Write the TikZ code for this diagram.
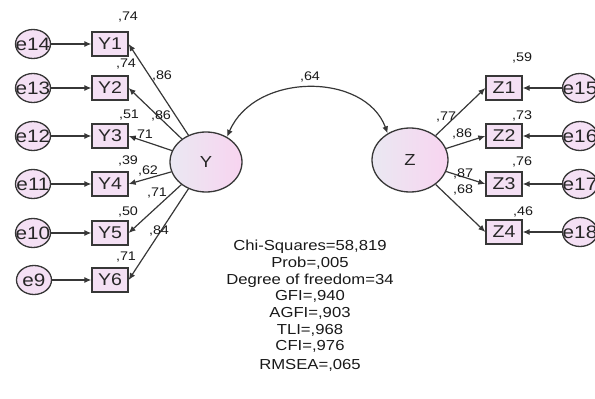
\documentclass[tikz,border=0pt]{standalone}
\usepackage{fontspec}
\setmainfont{Liberation Sans}
\newfontfamily\amosfont[FakeStretch=1.15]{Liberation Sans}
\usepackage{tikz}
\usetikzlibrary{shapes.geometric,arrows.meta}
\definecolor{edgegray}{RGB}{55,55,55}
\definecolor{lavgray}{RGB}{234,232,242}
\definecolor{softpink}{RGB}{248,212,240}
\definecolor{boxpink}{RGB}{244,224,244}
\newcommand{\elab}[1]{\makebox[0pt]{#1}}
\tikzset{
  obsbox/.style ={rectangle, draw=edgegray, line width=1.3pt, fill=boxpink, minimum width=36pt, minimum height=24pt, inner sep=0pt, text=black!85, font=\amosfont\fontsize{17}{17}\selectfont},
  errnode/.style={ellipse, draw=edgegray, line width=1.3pt, fill=boxpink, minimum width=35pt, minimum height=29pt, inner sep=0pt, text height=12.5pt, text depth=0pt, text=black!85, font=\amosfont\fontsize{18}{18}\selectfont},
  latent/.style ={ellipse, draw=edgegray, line width=1.3pt, left color=lavgray, right color=softpink, inner sep=0pt, text=black!85, font=\amosfont\fontsize{16}{16}\selectfont},
  est/.style    ={inner sep=0pt, text=black!90, font=\amosfont\fontsize{12.5}{12.5}\selectfont},
  stats/.style  ={inner sep=0pt, align=center, text=black!90, font=\amosfont\fontsize{14.5}{16.7}\selectfont},
  regpath/.style={-{Latex[length=7pt,width=6pt]}, draw=edgegray, line width=1.2pt},
  cov/.style    ={{Latex[length=7pt,width=6pt]}-{Latex[length=7pt,width=6pt]}, draw=edgegray, line width=1.2pt},
}
\begin{document}
\begin{tikzpicture}[x=1pt,y=-1pt]
\useasboundingbox (0,0) rectangle (595,399);
% --- latent variables ---
\node[latent, minimum width=72pt, minimum height=60pt] (Y) at (206,162) {Y};
\node[latent, minimum width=76pt, minimum height=64pt] (Z) at (410,160) {Z};
% --- Y indicators ---
\node[obsbox] (Y1) at (110,44)  {Y1};
\node[obsbox] (Y2) at (110,88)  {Y2};
\node[obsbox] (Y3) at (110,136) {Y3};
\node[obsbox] (Y4) at (110,184) {Y4};
\node[obsbox] (Y5) at (110,233) {Y5};
\node[obsbox] (Y6) at (110,280) {Y6};
\node[errnode] (e14) at (33,44)  {\elab{e14}};
\node[errnode] (e13) at (33,88)  {\elab{e13}};
\node[errnode] (e12) at (33,136) {\elab{e12}};
\node[errnode] (e11) at (33,184) {\elab{e11}};
\node[errnode] (e10) at (33,233) {\elab{e10}};
\node[errnode] (e9)  at (34,280) {\elab{e9}};
% --- Z indicators ---
\node[obsbox] (Z1) at (504,88)  {Z1};
\node[obsbox] (Z2) at (504,136) {Z2};
\node[obsbox] (Z3) at (504,184) {Z3};
\node[obsbox] (Z4) at (504,232) {Z4};
\node[errnode] (e15) at (580,88)  {\elab{e15}};
\node[errnode] (e16) at (580,136) {\elab{e16}};
\node[errnode] (e17) at (580,184) {\elab{e17}};
\node[errnode] (e18) at (580,232) {\elab{e18}};
% --- arrows ---
\foreach \e/\v in {e14/Y1,e13/Y2,e12/Y3,e11/Y4,e10/Y5,e9/Y6} {\draw[regpath] (\e) -- (\v);}
\foreach \v in {Y1,Y2,Y3,Y4,Y5,Y6} {\draw[regpath] (Y) -- (\v.east);}
\foreach \e/\v in {e15/Z1,e16/Z2,e17/Z3,e18/Z4} {\draw[regpath] (\e) -- (\v);}
\foreach \v in {Z1,Z2,Z3,Z4} {\draw[regpath] (Z) -- (\v.west);}
\draw[cov] (Y.50) .. controls (255,72) and (365,72) .. (Z.130);
% --- estimates ---
\node[est] (r2y1) at (128,17)  {,74};
\node[est] (r2y2) at (126,64)  {,74};
\node[est] (r2y3) at (129,115) {,51};
\node[est] (r2y4) at (128,161) {,39};
\node[est] (r2y5) at (128,212) {,50};
\node[est] (r2y6) at (126,257) {,71};
\node[est] (ly1) at (162,76)  {,86};
\node[est] (ly2) at (161,116) {,86};
\node[est] (ly3) at (143,135) {,71};
\node[est] (ly4) at (148,171) {,62};
\node[est] (ly5) at (157,193) {,71};
\node[est] (ly6) at (159,231) {,84};
\node[est] (r2z1) at (522,58)  {,59};
\node[est] (r2z2) at (522,116) {,73};
\node[est] (r2z3) at (522,162) {,76};
\node[est] (r2z4) at (523,212) {,46};
\node[est] (lz1) at (446,117) {,77};
\node[est] (lz2) at (462,134) {,86};
\node[est] (lz3) at (463,174) {,87};
\node[est] (lz4) at (463,190) {,68};
\node[est] (rho) at (310,77) {,64};
% --- fit statistics ---
\node[stats, anchor=north] (fitstats) at (310,240) {Chi-Squares=58,819\\Prob=,005\\Degree of freedom=34\\GFI=,940\\AGFI=,903\\TLI=,968\\CFI=,976\\[2pt]RMSEA=,065};
\end{tikzpicture}
\end{document}
